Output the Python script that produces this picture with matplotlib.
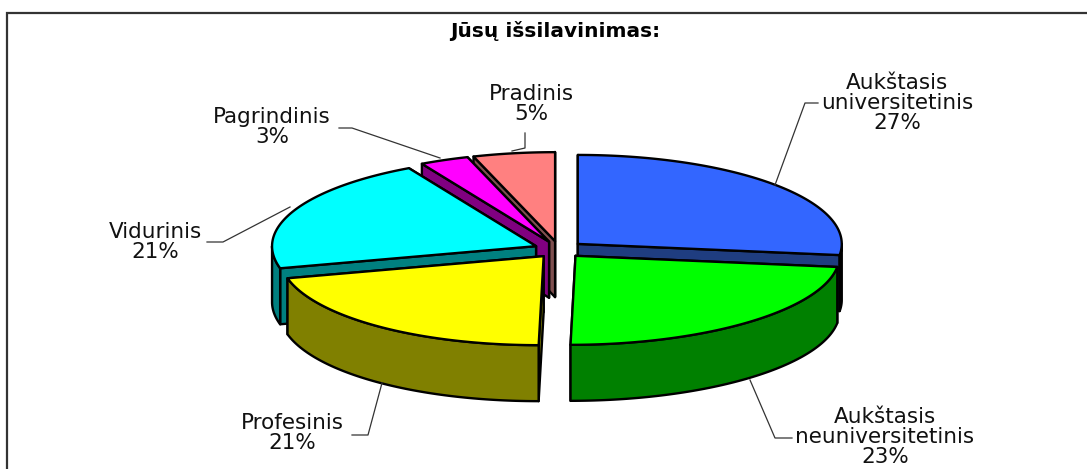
import numpy as np
import matplotlib
matplotlib.use("Agg")
import matplotlib.pyplot as plt
from matplotlib.patches import Polygon

title = "Jūsų išsilavinimas:"
names = ["Aukštasis\nuniversitetinis", "Aukštasis\nneuniversitetinis", "Profesinis",
         "Vidurinis", "Pagrindinis", "Pradinis"]
shares = [27, 23, 21, 21, 3, 5]
top_colors = ["#3366FF", "#00FF00", "#FFFF00", "#00FFFF", "#FF00FF", "#FF8080"]
side_colors = ["#1F3D80", "#008000", "#808000", "#008080", "#800080", "#7F4F4F"]
wall_colors = ["#050A30", "#008000", "#808000", "#008080", "#800080", "#7F4F4F"]
label_pos = [(897, 103), (885, 437), (292, 433), (155, 242), (272, 127), (531, 104)]
leaders = [
    [(775, 185), (805, 103), (818, 103)],
    [(750, 380), (775, 438), (792, 438)],
    [(382, 383), (368, 435), (352, 435)],
    [(290, 207), (223, 242), (207, 242)],
    [(440, 158), (352, 128), (339, 128)],
    [(512, 151), (525, 148), (525, 133)],
]
draw_order = [5, 4, 0, 3, 2, 1]

CX, CY, RX, RY, EXPLODE, DEPTH, SHEAR = 559, 249.5, 264, 89, 25, 56, 0.00055
FONT = "DejaVu Sans"

fig = plt.figure(figsize=(10.87, 4.69), dpi=100)
ax = fig.add_axes([0, 0, 1, 1])
ax.set_xlim(0, 1087)
ax.set_ylim(469, 0)
ax.axis("off")

ax.plot([7, 7, 1087], [469, 13, 13], color="#333333", lw=1.6, solid_joinstyle="miter")


def project(ang, r, ox, oy):
    a = np.radians(ang)
    x = ox + r * RX * np.sin(a)
    y = oy - r * RY * np.cos(a)
    x = x - SHEAR * np.maximum(y - CY, 0) ** 2
    return x, y


edges = np.concatenate([[0], np.cumsum(shares)]) * 360.0 / sum(shares)
for i in draw_order:
    a0, a1 = edges[i], edges[i + 1]
    mid = np.radians((a0 + a1) / 2)
    ox = CX + EXPLODE * np.sin(mid)
    oy = CY - EXPLODE * RY / RX * np.cos(mid)
    axo, ayo = project(0, 0, ox, oy)
    kw = dict(edgecolor="black", lw=1.7, joinstyle="round")
    # radial cut faces, rear one first
    for a in sorted((a0, a1), key=lambda v: project(v, 1, ox, oy)[1]):
        ex, ey = project(a, 1, ox, oy)
        ax.add_patch(Polygon([(axo, ayo), (ex, ey), (ex, ey + DEPTH), (axo, ayo + DEPTH)],
                             facecolor=side_colors[i], **kw))
    # outer wall (front half only)
    lo, hi = max(a0, 90), min(a1, 270)
    if hi > lo:
        t = np.linspace(lo, hi, 80)
        wx, wy = project(t, 1, ox, oy)
        pts = list(zip(wx, wy)) + list(zip(wx[::-1], wy[::-1] + DEPTH))
        ax.add_patch(Polygon(pts, facecolor=wall_colors[i], **kw))
    # top
    t = np.linspace(a0, a1, 120)
    tx, ty = project(t, 1, ox, oy)
    ax.add_patch(Polygon([(axo, ayo)] + list(zip(tx, ty)), facecolor=top_colors[i], **kw))

for pts in leaders:
    xs, ys = zip(*pts)
    ax.plot(xs, ys, color="#333333", lw=0.9)

for name, share, (x, y) in zip(names, shares, label_pos):
    lines = name.split("\n") + [f"{share}%"]
    ax.text(x, y, "\n".join(lines), ha="center", va="center", family=FONT, fontsize=15.5,
            color="#111111", linespacing=1.03)

ax.text(555, 31, title, ha="center", va="center", family=FONT, fontsize=14.5,
        fontweight="bold", color="black")

fig.savefig("out.png", dpi=100)
